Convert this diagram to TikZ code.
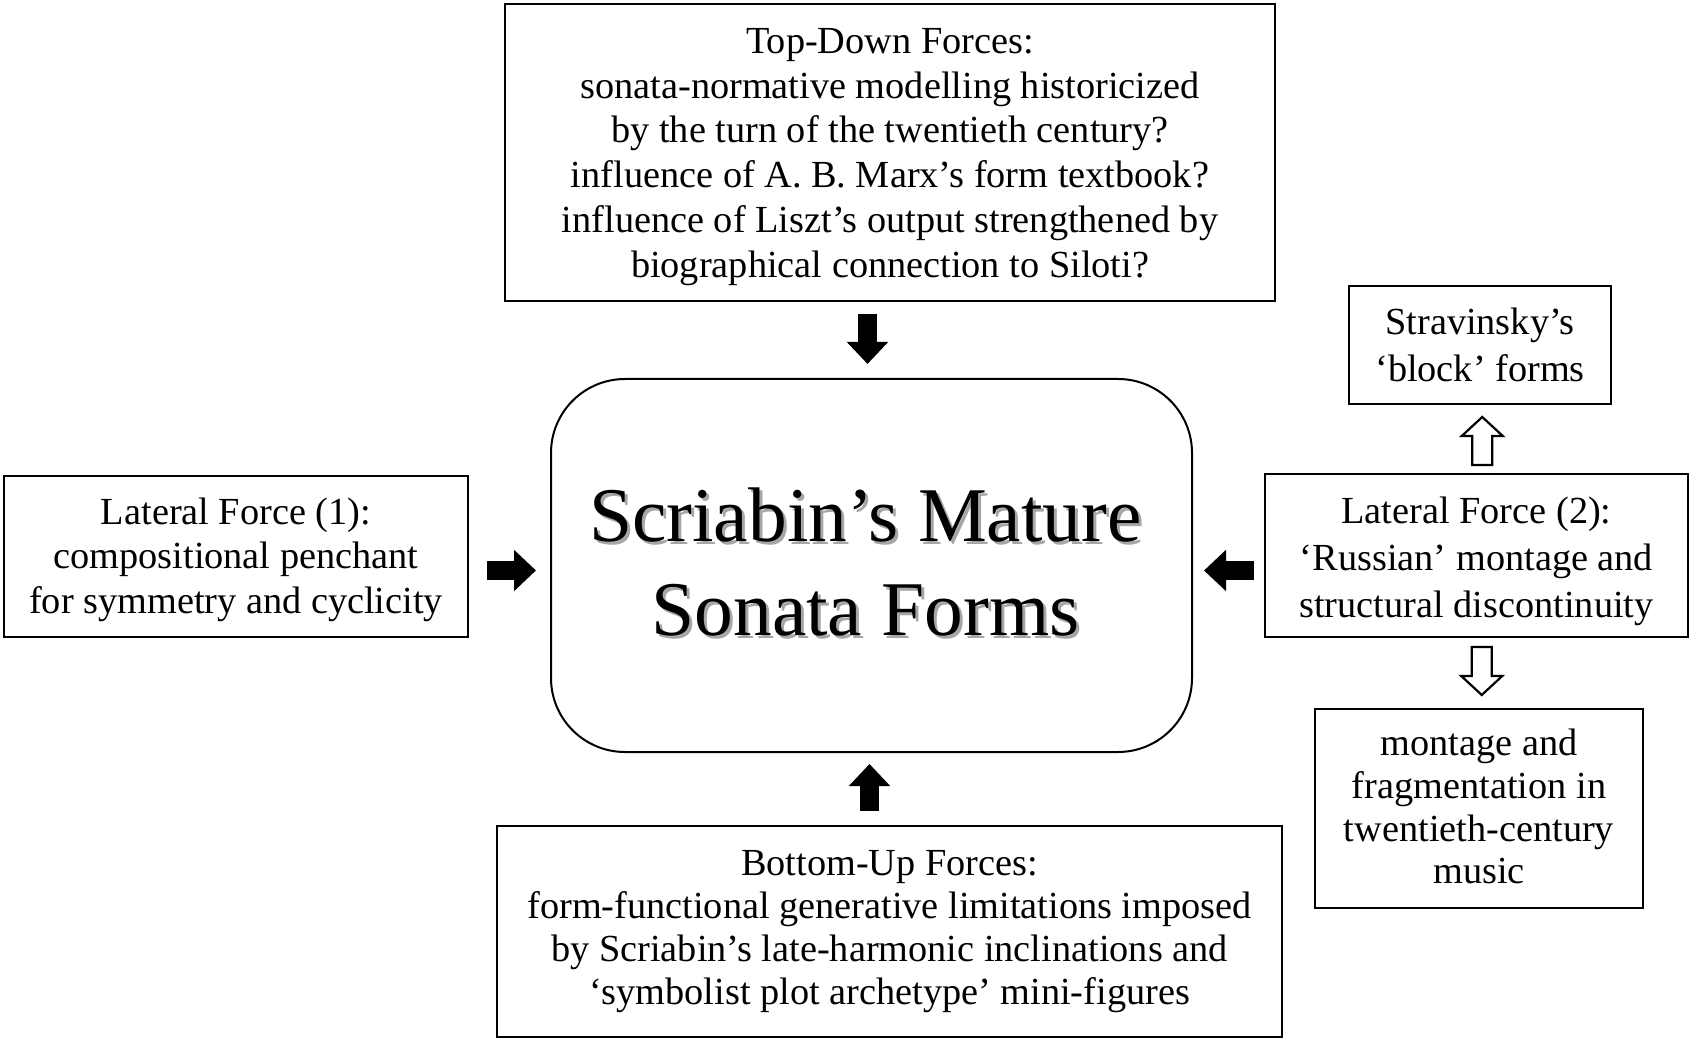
\documentclass[tikz,border=0pt]{standalone}
\usepackage{fontspec}
\setmainfont{Liberation Serif}
\usetikzlibrary{arrows.meta,calc}
\begin{document}
\begin{tikzpicture}[x=0.5pt,y=-0.5pt,
  box/.style={draw, line width=1pt, inner sep=0pt},
  lbl/.style={align=center, inner sep=0pt},
  solidarrow/.style={line width=9.5pt, -{Triangle[length=11pt,width=20pt]}},
  hollowarrow/.style={draw, line width=1.1pt, fill=white, line join=miter}]
\useasboundingbox[fill=white] (0,0) rectangle (1692,1042);

\node[box, minimum width=385pt, minimum height=148.5pt] (top) at (890,152.5) {};
\node[lbl, font=\fontsize{19.15}{22.4}\selectfont] (toptext) at ([yshift=-2.2pt]top.center)
  {Top-Down Forces:\\sonata-normative modelling historicized\\by the turn of the twentieth century?\\influence of A. B. Marx’s form textbook?\\influence of Liszt’s output strengthened by\\biographical connection to Siloti?};

\node[box, rounded corners=37pt, minimum width=320.5pt, minimum height=186.5pt] (ctr) at (871.5,565.5) {};
\node[lbl, text=black!35, font=\fontsize{38.7}{47}\selectfont] (ctrshadow) at ([shift={(-3,0)}, yshift=0.1pt]ctr.center)
  {Scriabin’s Mature\\Sonata Forms};
\node[lbl, font=\fontsize{38.7}{47}\selectfont] (ctrtext) at ([shift={(-6,0)}, yshift=1.6pt]ctr.center)
  {Scriabin’s Mature\\Sonata Forms};

\node[box, minimum width=232pt, minimum height=80.5pt] (lat1) at (236,556.5) {};
\node[lbl, font=\fontsize{19.15}{22.4}\selectfont] (lat1text) at ([yshift=-1.6pt]lat1.center)
  {Lateral Force (1):\\compositional penchant\\for symmetry and cyclicity};

\node[box, minimum width=211.5pt, minimum height=81.5pt] (lat2) at (1476.5,555.5) {};
\node[lbl, font=\fontsize{19.15}{23.5}\selectfont] (lat2text) at ([yshift=-2.7pt]lat2.center)
  {Lateral Force (2):\\‘Russian’ montage and\\structural discontinuity};

\node[box, minimum width=131pt, minimum height=59pt] (strav) at (1480,345) {};
\node[lbl, font=\fontsize{19.15}{23.2}\selectfont] (stravtext) at (strav.center)
  {Stravinsky’s\\‘block’ forms};

\node[box, minimum width=164pt, minimum height=99.5pt] (mont) at (1479,808.5) {};
\node[lbl, font=\fontsize{19.15}{21.4}\selectfont] (monttext) at ([yshift=1pt]mont.center)
  {montage and\\fragmentation in\\twentieth-century\\music};

\node[box, minimum width=392.5pt, minimum height=105.5pt] (bot) at (889.5,931.5) {};
\node[lbl, font=\fontsize{19.15}{21.6}\selectfont] (bottext) at (bot.center)
  {Bottom-Up Forces:\\form-functional generative limitations imposed\\by Scriabin’s late-harmonic inclinations and\\‘symbolist plot archetype’ mini-figures};

% solid arrows
\draw[solidarrow] ($(top.south -| ctr.north)+(-4,12)$) -- ($(ctr.north)+(-4,-14)$);
\draw[solidarrow] ($(bot.north -| ctr.south)+(-2,-14)$) -- ($(ctr.south)+(-2,11)$);
\draw[solidarrow] ($(lat1.east |- ctr.west)+(18,5)$) -- ($(ctr.west)+(-14,5)$);
\draw[solidarrow] ($(lat2.west |- ctr.east)+(-10,5)$) -- ($(ctr.east)+(11,5)$);

% hollow arrows
\draw[hollowarrow] ($(lat2.north)!0.5!(strav.south)+(4,2)$) ++(0,-24) -- ++(20.5,19) -- ++(-10.5,0) -- ++(0,29) -- ++(-20,0) -- ++(0,-29) -- ++(-10.5,0) -- cycle;
\draw[hollowarrow] ($(lat2.south)!0.5!(mont.north)+(4,-2)$) ++(0,24) -- ++(20.5,-19) -- ++(-10.5,0) -- ++(0,-29) -- ++(-20,0) -- ++(0,29) -- ++(-10.5,0) -- cycle;
\end{tikzpicture}
\end{document}
